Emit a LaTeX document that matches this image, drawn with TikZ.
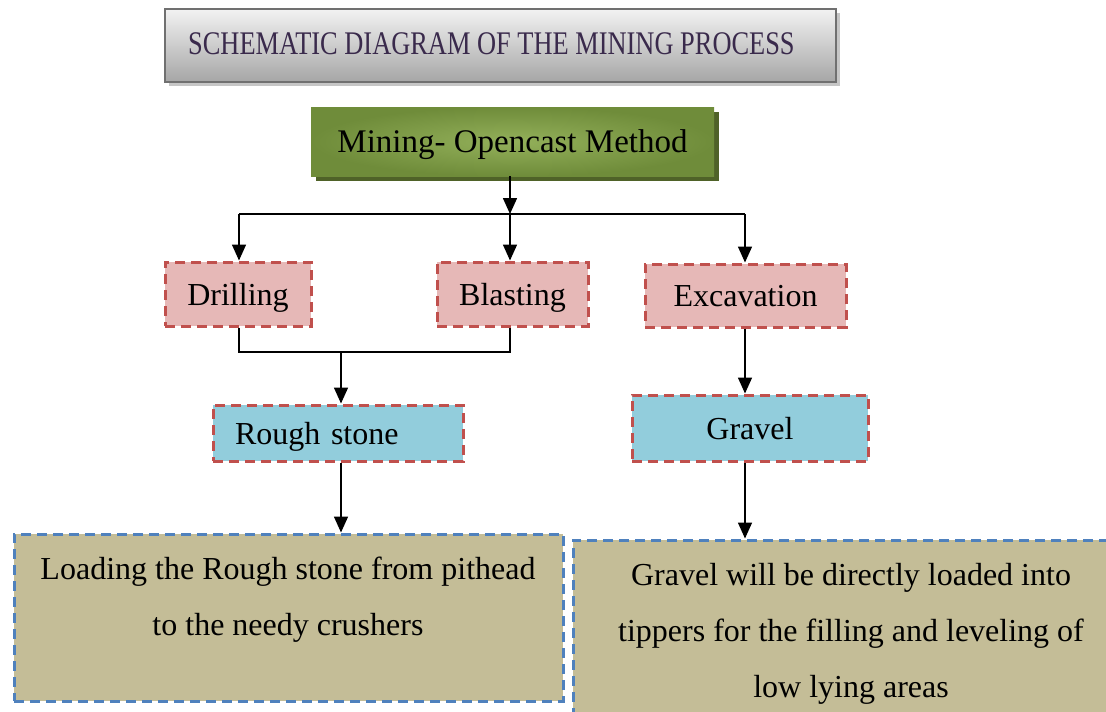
\documentclass[tikz,border=0pt]{standalone}
\usepackage{fontspec}
\setmainfont{Liberation Serif}
\newfontfamily\titlefont[FakeStretch=0.8]{Liberation Serif}
\usetikzlibrary{arrows.meta}
\definecolor{titletxt}{HTML}{3A2A4C}
\definecolor{titleborder}{HTML}{707070}
\definecolor{greenout}{HTML}{6F8C3A}
\definecolor{greenin}{HTML}{93B05A}
\definecolor{greenshadow}{HTML}{4F6228}
\definecolor{pinkfill}{HTML}{E6B8B7}
\definecolor{redborder}{HTML}{C0504D}
\definecolor{bluefill}{HTML}{92CDDC}
\definecolor{tanfill}{HTML}{C4BD97}
\definecolor{blueborder}{HTML}{4F81BD}
\tikzset{
  bodyfont/.style={font=\fontsize{32}{56}\selectfont},
  oneline/.style={text height=22pt, text depth=0pt},
  pinkbox/.style={rectangle, fill=pinkfill, draw=redborder, line width=3pt, dash pattern=on 10pt off 6pt, bodyfont, oneline, inner sep=0pt},
  cyanbox/.style={rectangle, fill=bluefill, draw=redborder, line width=3pt, dash pattern=on 10pt off 6pt, bodyfont, oneline, inner sep=0pt},
  tanbox/.style={rectangle, fill=tanfill, draw=blueborder, line width=3pt, dash pattern=on 10pt off 6pt, inner sep=0pt},
  conn/.style={line width=1.6pt, black},
  arr/.style={conn, -{Triangle[length=16pt,width=14pt]}},
  textline/.style={bodyfont, align=center, inner sep=0pt, anchor=north}
}
\begin{document}
\begin{tikzpicture}[x=1pt,y=-1pt]
\useasboundingbox (0,0) rectangle (1106,712);
% title
\fill[gray!45] (169,13) rectangle (840,86);
\node[rectangle, minimum width=671pt, minimum height=73pt, top color=white!95!black, bottom color=black!35, draw=titleborder, line width=2pt, inner sep=0pt] (title) at (500.5,45.5) {};
\node[anchor=base west, inner sep=0pt, text=titletxt, font=\titlefont\fontsize{33}{36}\selectfont] (titletext) at (188,54) {SCHEMATIC DIAGRAM OF THE MINING PROCESS};
% mining
\fill[greenshadow] (316,112) rectangle (719,181);
\node[rectangle, minimum width=403pt, minimum height=69pt, inner color=greenin, outer color=greenout, inner sep=0pt, font=\fontsize{33}{40}\selectfont, oneline] (mining) at (512.5,141.5) {Mining- Opencast Method};
% level 2
\node[pinkbox, minimum width=146pt, minimum height=64pt] (drill) at (238,294) {Drilling};
\node[pinkbox, minimum width=151pt, minimum height=64pt] (blast) at (512.5,294) {Blasting};
\node[pinkbox, minimum width=201pt, minimum height=63pt] (excav) at (745.5,295.5) {Excavation};
% level 3
\node[cyanbox, minimum width=250pt, minimum height=56pt, text width=206pt, align=left] (rough) at (338,433) {Rough stone};
\node[cyanbox, minimum width=236pt, minimum height=66pt] (gravel) at (750,428) {Gravel};
% level 4
\node[tanbox, minimum width=549pt, minimum height=167pt] (load) at (288.5,617.5) {};
\node[textline] (loadtext) at (288,557) {Loading the Rough stone from pithead\\to the needy crushers};
\node[tanbox, minimum width=539pt, minimum height=178pt] (gbox) at (842.5,629) {};
\node[textline] (gboxtext) at (851,563) {Gravel will be directly loaded into\\tippers for the filling and leveling of\\low lying areas};
% connectors
\coordinate (j1) at (510,214);
\coordinate (jl) at (239,214);
\coordinate (jr) at (745,214);
\coordinate (jb) at (341,352);
\coordinate (ge) at (745,400);
\draw[arr] (j1 |- mining.south) -- (j1);
\draw[conn] (jl) -- (jr);
\draw[arr] (jl) -- (jl |- drill.north);
\draw[arr] (j1) -- (j1 |- blast.north);
\draw[arr] (jr) -- (jr |- excav.north);
\draw[conn] (jl |- drill.south) -- (jl |- jb) -- (j1 |- jb) -- (j1 |- blast.south);
\draw[arr] (jb) -- (jb |- rough.north);
\draw[arr] (jb |- rough.south) -- (jb |- load.north);
\draw[arr] (ge |- excav.south) -- (ge |- gravel.north);
\draw[arr] (ge |- gravel.south) -- (ge |- gbox.north);
\end{tikzpicture}
\end{document}
